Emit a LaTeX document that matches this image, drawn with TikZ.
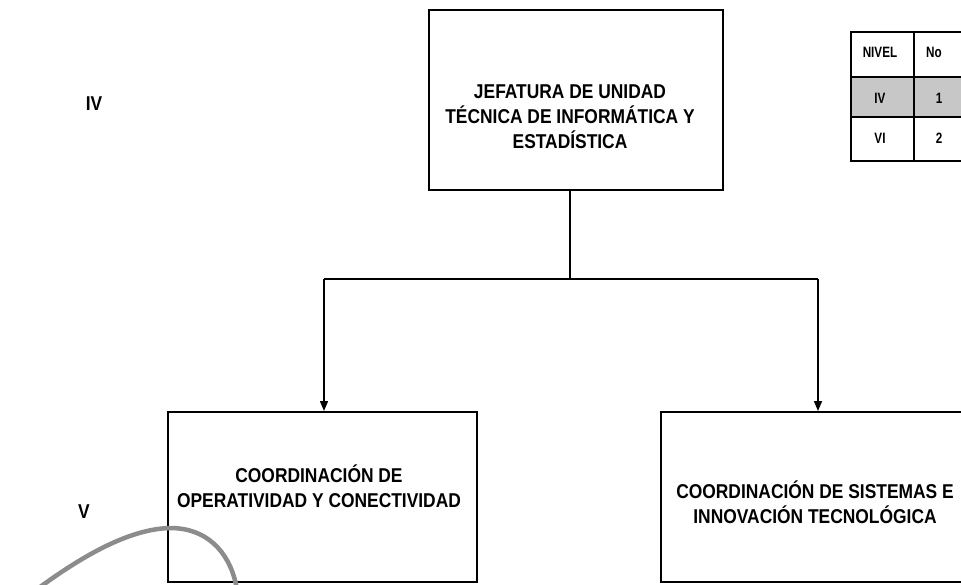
\documentclass[tikz,border=0pt]{standalone}
\usepackage{fontspec}
\setmainfont{Liberation Sans}
\newfontfamily\narrowbf[FakeStretch=0.87]{Liberation Sans Bold}
\newfontfamily\narrowtab[FakeStretch=0.78]{Liberation Sans Bold}
\usetikzlibrary{arrows.meta}
\begin{document}
\begin{tikzpicture}[x=1pt,y=-1pt,
  boxst/.style={draw=black, line width=2pt, fill=white, inner sep=0pt},
  txt/.style={font=\narrowbf\fontsize{20}{25}\selectfont, align=center, inner sep=0pt},
  small/.style={font=\narrowtab\fontsize{15}{17}\selectfont, inner sep=0pt},
  cell/.style={draw=black, line width=1.8pt, inner sep=0pt},
  conn/.style={draw=black, line width=1.4pt},
  arr/.style={conn, -{Triangle[length=10pt,width=8pt]}},
  curvest/.style={draw=black!45, line width=4.5pt}
]
\useasboundingbox (0,0) rectangle (961,584);
\clip (0,0) rectangle (961,584);
\fill[white] (0,0) rectangle (961,584);

% top box
\node[boxst, minimum width=294pt, minimum height=180pt] (jefe) at (576,100) {};
\node[txt] (jefet) at (570,117) {JEFATURA DE UNIDAD\\TÉCNICA DE INFORMÁTICA Y\\ESTADÍSTICA};

% lower boxes
\node[boxst, minimum width=309pt, minimum height=170pt] (oper) at (322.5,497) {};
\node[txt] (opert) at (319,486) {COORDINACIÓN DE\\OPERATIVIDAD Y CONECTIVIDAD};
\node[boxst, minimum width=315pt, minimum height=170pt] (sist) at (818.5,497) {};
\node[txt] (sistt) at (815,502) {COORDINACIÓN DE SISTEMAS E\\INNOVACIÓN TECNOLÓGICA};

% connectors
\coordinate (bus) at (570,279);
\coordinate (busL) at (324,279);
\coordinate (busR) at (818,279);
\draw[conn] (jefe.south -| bus) -- (bus);
\draw[conn] (busL) -- (busR);
\draw[arr] (busL) -- (busL |- oper.north);
\draw[arr] (busR) -- (busR |- sist.north);

% level labels
\node[txt] (lvIV) at (94,104) {IV};
\node[txt] (lvV) at (84,512) {V};

% table
\node[cell, minimum width=63pt, minimum height=45pt] (c11) at (882.5,54.5) {};
\node[cell, minimum width=63pt, minimum height=45pt] (c12) at (945.5,54.5) {};
\node[cell, fill=black!22, minimum width=63pt, minimum height=40pt] (c21) at (882.5,97) {};
\node[cell, fill=black!22, minimum width=63pt, minimum height=40pt] (c22) at (945.5,97) {};
\node[cell, minimum width=63pt, minimum height=44pt] (c31) at (882.5,139) {};
\node[cell, minimum width=63pt, minimum height=44pt] (c32) at (945.5,139) {};
\node[small] (t11) at (880,52) {NIVEL};
\node[small] (t12) at (934,52) {No};
\node[small] (t21) at (880,98) {IV};
\node[small] (t22) at (939,98) {1};
\node[small] (t31) at (880,138) {VI};
\node[small] (t32) at (939,138) {2};

% hand-drawn curve
\draw[curvest] (36,590) .. controls (90,550) and (135,528) .. (172,528)
  .. controls (212,529) and (232,558) .. (237,590);
\end{tikzpicture}
\end{document}
